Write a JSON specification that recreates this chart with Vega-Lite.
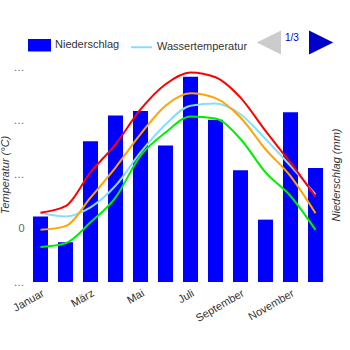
{
  "$schema": "https://vega.github.io/schema/vega-lite/v6.json",
  "width": 300,
  "height": 215,
  "autosize": "none",
  "padding": {"left": 28, "top": 67, "right": 22, "bottom": 68},
  "config": {
    "font": "Liberation Sans",
    "view": {"stroke": null},
    "axis": {"labelFont": "Liberation Sans", "titleFont": "Liberation Sans", "gridColor": "#cccccc", "domain": false, "ticks": false}
  },
  "datasets": {
    "niederschlag": [
      {"Monat": "Januar", "Niederschlag": 61},
      {"Monat": "Februar", "Niederschlag": 37},
      {"Monat": "März", "Niederschlag": 131},
      {"Monat": "April", "Niederschlag": 155},
      {"Monat": "Mai", "Niederschlag": 159},
      {"Monat": "Juni", "Niederschlag": 127},
      {"Monat": "Juli", "Niederschlag": 191},
      {"Monat": "August", "Niederschlag": 151},
      {"Monat": "September", "Niederschlag": 104},
      {"Monat": "Oktober", "Niederschlag": 58},
      {"Monat": "November", "Niederschlag": 158},
      {"Monat": "Dezember", "Niederschlag": 106}
    ],
    "temperatur": [
      {"Monat": "Januar", "Serie": "Wassertemperatur", "Temperatur": 2.9},
      {"Monat": "Februar", "Serie": "Wassertemperatur", "Temperatur": 2.2},
      {"Monat": "März", "Serie": "Wassertemperatur", "Temperatur": 3.9},
      {"Monat": "April", "Serie": "Wassertemperatur", "Temperatur": 7.9},
      {"Monat": "Mai", "Serie": "Wassertemperatur", "Temperatur": 14.1},
      {"Monat": "Juni", "Serie": "Wassertemperatur", "Temperatur": 19.3},
      {"Monat": "Juli", "Serie": "Wassertemperatur", "Temperatur": 22.8},
      {"Monat": "August", "Serie": "Wassertemperatur", "Temperatur": 23.2},
      {"Monat": "September", "Serie": "Wassertemperatur", "Temperatur": 21.2},
      {"Monat": "Oktober", "Serie": "Wassertemperatur", "Temperatur": 16.6},
      {"Monat": "November", "Serie": "Wassertemperatur", "Temperatur": 11.6},
      {"Monat": "Dezember", "Serie": "Wassertemperatur", "Temperatur": 6.3},
      {"Monat": "Januar", "Serie": "Min", "Temperatur": -3.5},
      {"Monat": "Februar", "Serie": "Min", "Temperatur": -2.8},
      {"Monat": "März", "Serie": "Min", "Temperatur": 1.1},
      {"Monat": "April", "Serie": "Min", "Temperatur": 5.7},
      {"Monat": "Mai", "Serie": "Min", "Temperatur": 13.5},
      {"Monat": "Juni", "Serie": "Min", "Temperatur": 17.8},
      {"Monat": "Juli", "Serie": "Min", "Temperatur": 20.8},
      {"Monat": "August", "Serie": "Min", "Temperatur": 20.4},
      {"Monat": "September", "Serie": "Min", "Temperatur": 16.6},
      {"Monat": "Oktober", "Serie": "Min", "Temperatur": 10.4},
      {"Monat": "November", "Serie": "Min", "Temperatur": 6.0},
      {"Monat": "Dezember", "Serie": "Min", "Temperatur": -0.3},
      {"Monat": "Januar", "Serie": "Mittel", "Temperatur": -0.3},
      {"Monat": "Februar", "Serie": "Mittel", "Temperatur": 0.4},
      {"Monat": "März", "Serie": "Mittel", "Temperatur": 5.7},
      {"Monat": "April", "Serie": "Mittel", "Temperatur": 11.3},
      {"Monat": "Mai", "Serie": "Mittel", "Temperatur": 17.5},
      {"Monat": "Juni", "Serie": "Mittel", "Temperatur": 22.8},
      {"Monat": "Juli", "Serie": "Mittel", "Temperatur": 25.1},
      {"Monat": "August", "Serie": "Mittel", "Temperatur": 24.2},
      {"Monat": "September", "Serie": "Mittel", "Temperatur": 20.6},
      {"Monat": "Oktober", "Serie": "Mittel", "Temperatur": 14.7},
      {"Monat": "November", "Serie": "Mittel", "Temperatur": 9.7},
      {"Monat": "Dezember", "Serie": "Mittel", "Temperatur": 2.8},
      {"Monat": "Januar", "Serie": "Max", "Temperatur": 2.9},
      {"Monat": "Februar", "Serie": "Max", "Temperatur": 4.1},
      {"Monat": "März", "Serie": "Max", "Temperatur": 10.4},
      {"Monat": "April", "Serie": "Max", "Temperatur": 15.6},
      {"Monat": "Mai", "Serie": "Max", "Temperatur": 22.1},
      {"Monat": "Juni", "Serie": "Max", "Temperatur": 26.8},
      {"Monat": "Juli", "Serie": "Max", "Temperatur": 29.0},
      {"Monat": "August", "Serie": "Max", "Temperatur": 28.1},
      {"Monat": "September", "Serie": "Max", "Temperatur": 24.3},
      {"Monat": "Oktober", "Serie": "Max", "Temperatur": 18.1},
      {"Monat": "November", "Serie": "Max", "Temperatur": 12.2},
      {"Monat": "Dezember", "Serie": "Max", "Temperatur": 5.9}
    ]
  },
  "layer": [
    {
      "data": {"name": "niederschlag"},
      "mark": {"type": "bar"},
      "encoding": {
        "x": {
          "field": "Monat", "type": "ordinal",
          "sort": ["Januar", "Februar", "März", "April", "Mai", "Juni", "Juli", "August", "September", "Oktober", "November", "Dezember"],
          "scale": {"paddingInner": 0.4, "paddingOuter": 0.2},
          "axis": {
            "title": null,
            "values": ["Januar", "März", "Mai", "Juli", "September", "November"],
            "labelAngle": -30, "labelAlign": "right", "labelBaseline": "top",
            "labelFontSize": 11, "labelColor": "#333333", "labelPadding": 5
          }
        },
        "y": {
          "field": "Niederschlag", "type": "quantitative",
          "scale": {"domain": [0, 200]},
          "axis": {
            "orient": "right", "title": "Niederschlag (mm)", "labels": false, "grid": false,
            "titleFontStyle": "italic", "titleFontWeight": "normal", "titleFontSize": 11,
            "titleColor": "#333333", "titleAngle": -90, "titlePadding": 13
          }
        },
        "color": {"datum": "Niederschlag"}
      }
    },
    {
      "data": {"name": "temperatur"},
      "mark": {"type": "line", "interpolate": "monotone", "strokeWidth": 2},
      "encoding": {
        "x": {
          "field": "Monat", "type": "ordinal",
          "sort": ["Januar", "Februar", "März", "April", "Mai", "Juni", "Juli", "August", "September", "Oktober", "November", "Dezember"]
        },
        "y": {
          "field": "Temperatur", "type": "quantitative",
          "scale": {"domain": [-10, 30]},
          "axis": {
            "orient": "left", "title": "Temperatur (°C)", "values": [-10, 0, 10, 20, 30],
            "labelExpr": "datum.value == 0 ? '0' : '…'",
            "labelFontSize": 11, "labelColor": "#666666", "labelPadding": 4,
            "titleFontStyle": "italic", "titleFontWeight": "normal", "titleFontSize": 11,
            "titleColor": "#333333", "titlePadding": 3
          }
        },
        "color": {
          "field": "Serie", "type": "nominal",
          "scale": {
            "domain": ["Niederschlag", "Wassertemperatur", "Max", "Mittel", "Min", "zurück", "weiter"],
            "range": ["#0000ff", "#88ddff", "#ff0000", "#ffa500", "#00ee00", "#cccccc", "#0000cc"]
          },
          "legend": {
            "orient": "none", "legendX": 0, "legendY": -36, "direction": "horizontal", "title": null,
            "values": ["Niederschlag", "Wassertemperatur", "zurück", "weiter"],
            "labelExpr": "datum.value == 'zurück' ? '1/3' : datum.value == 'weiter' ? '' : datum.label",
            "symbolSize": 441, "labelOffset": 4, "columnPadding": 7,
            "labelFont": "Liberation Sans", "labelFontSize": 11, "labelColor": "#333333",
            "encode": {
              "symbols": {
                "update": {
                  "shape": {"signal": "datum.value == 'Niederschlag' ? 'M-1,-0.5H1V0.5H-1Z' : datum.value == 'Wassertemperatur' ? 'M-1,0H1' : datum.value == 'zurück' ? 'M1,-1L1,1L-1,0Z' : 'M-1,-1L-1,1L1,0Z'"},
                  "size": {"value": 441},
                  "fill": {"signal": "datum.value == 'Niederschlag' ? '#0000ff' : datum.value == 'Wassertemperatur' ? 'transparent' : datum.value == 'zurück' ? '#cccccc' : '#0000cc'"},
                  "stroke": {"signal": "datum.value == 'Wassertemperatur' ? '#88ddff' : 'transparent'"},
                  "strokeWidth": {"value": 2},
                  "opacity": {"value": 1}
                }
              },
              "labels": {
                "update": {
                  "fill": {"signal": "datum.value == 'zurück' ? '#0000cc' : '#333333'"},
                  "fontSize": {"signal": "datum.value == 'zurück' ? 10 : 11"},
                  "dy": {"signal": "datum.value == 'zurück' ? -5 : 0"}
                }
              }
            }
          }
        }
      }
    }
  ],
  "resolve": {"scale": {"y": "independent"}}
}
